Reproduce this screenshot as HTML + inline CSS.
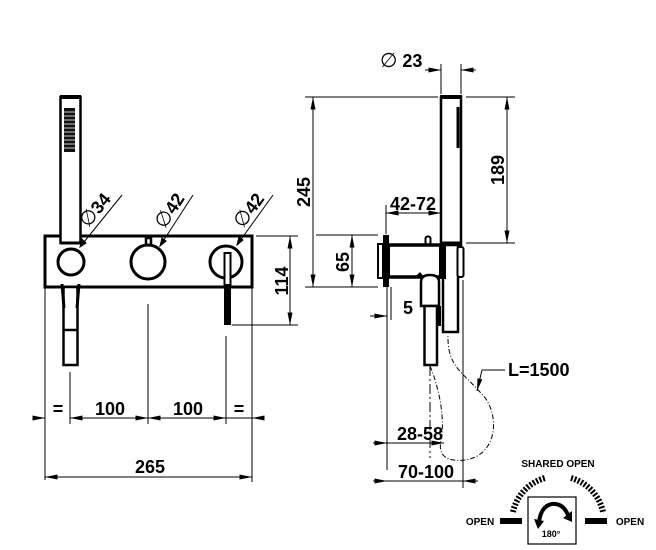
<!DOCTYPE html>
<html><head><meta charset="utf-8"><style>
html,body{margin:0;padding:0;background:#fff;}
svg{display:block;}
text{font-family:"Liberation Sans",Arial,sans-serif;font-weight:bold;fill:#000;}
.d{font-weight:normal;font-size:20px;}
</style></head><body>
<svg width="656" height="550" viewBox="0 0 656 550" xmlns="http://www.w3.org/2000/svg">
<defs>
<marker id="a" viewBox="0 0 10 4" refX="10" refY="2" markerWidth="14" markerHeight="5" markerUnits="userSpaceOnUse" orient="auto-start-reverse"><path d="M0,0 L10,2 L0,4 z" fill="#000"/></marker>
</defs>
<g stroke="#000" fill="none">
<rect x="45" y="236" width="207" height="51" stroke-width="3"/>
<rect x="60.5" y="97" width="20" height="146" stroke-width="2.5" fill="#fff"/>
<line x1="60" y1="97" x2="81" y2="97" stroke-width="4"/>
<rect x="64" y="108" width="11" height="44" fill="#111" stroke="none"/>
<g stroke="#fff" stroke-width="0.8">
<line x1="64" y1="112" x2="75" y2="112"/><line x1="64" y1="116" x2="75" y2="116"/><line x1="64" y1="120" x2="75" y2="120"/><line x1="64" y1="124" x2="75" y2="124"/><line x1="64" y1="128" x2="75" y2="128"/><line x1="64" y1="132" x2="75" y2="132"/><line x1="64" y1="136" x2="75" y2="136"/><line x1="64" y1="140" x2="75" y2="140"/><line x1="64" y1="144" x2="75" y2="144"/><line x1="64" y1="148" x2="75" y2="148"/>
</g>
<line x1="61" y1="243" x2="80" y2="243" stroke-width="3"/>
<rect x="63.5" y="287" width="14" height="78" stroke-width="2.5" fill="#fff"/>
<line x1="64" y1="330" x2="77" y2="330" stroke-width="2.5"/>
<path d="M62 284 L64 308 M79 284 L77 308" stroke-width="3"/>
<circle cx="71" cy="262" r="13" stroke-width="3" fill="#fff"/>
<rect x="146" y="238" width="5" height="8" stroke-width="2.5"/>
<circle cx="148" cy="262" r="17" stroke-width="3" fill="#fff"/>
<circle cx="226" cy="262" r="16" stroke-width="3" fill="#fff"/>
<rect x="224.5" y="253" width="6" height="32" stroke-width="2" fill="#fff"/>
<rect x="224" y="285" width="7" height="40" fill="#000" stroke="none"/>
<line x1="80" y1="247" x2="122" y2="195" stroke-width="1"/>
<line x1="160" y1="246" x2="193" y2="195" stroke-width="1"/>
<line x1="237" y1="245" x2="273" y2="195" stroke-width="1"/>
<path d="M80 247 l2 -8 l4 4 z" fill="#000" stroke-width="1"/>
<path d="M160 246 l2 -8 l4 3 z" fill="#000" stroke-width="1"/>
<path d="M237 245 l2 -8 l4 3 z" fill="#000" stroke-width="1"/>
<g stroke-width="1">
<line x1="45" y1="287" x2="45" y2="480"/>
<line x1="70" y1="372" x2="70" y2="424"/>
<line x1="148" y1="304" x2="148" y2="424"/>
<line x1="226" y1="336" x2="226" y2="424"/>
<line x1="252" y1="288" x2="252" y2="482"/>
<line x1="36" y1="418" x2="45" y2="418" marker-end="url(#a)"/>
<line x1="70" y1="418" x2="148" y2="418" marker-start="url(#a)" marker-end="url(#a)"/>
<line x1="148" y1="418" x2="226" y2="418" marker-start="url(#a)" marker-end="url(#a)"/>
<line x1="226" y1="418" x2="252" y2="418"/>
<line x1="262" y1="418" x2="252" y2="418" marker-end="url(#a)"/>
<line x1="45" y1="477" x2="252" y2="477" marker-start="url(#a)" marker-end="url(#a)"/>
<line x1="256" y1="236" x2="298" y2="236"/>
<line x1="232" y1="325" x2="298" y2="325"/>
<line x1="290" y1="236" x2="290" y2="325" marker-start="url(#a)" marker-end="url(#a)"/>
<line x1="305" y1="97" x2="438" y2="97"/>
<line x1="305" y1="287" x2="378" y2="287"/>
<line x1="313" y1="97" x2="313" y2="287" marker-start="url(#a)" marker-end="url(#a)"/>
<line x1="441" y1="64" x2="441" y2="94"/>
<line x1="461" y1="64" x2="461" y2="94"/>
<line x1="425" y1="70" x2="441" y2="70" marker-end="url(#a)"/>
<line x1="476" y1="70" x2="461" y2="70" marker-end="url(#a)"/>
<line x1="466" y1="97" x2="515" y2="97"/>
<line x1="466" y1="243" x2="515" y2="243"/>
<line x1="507" y1="97" x2="507" y2="243" marker-start="url(#a)" marker-end="url(#a)"/>
<line x1="386" y1="205" x2="386" y2="234"/>
<line x1="386" y1="213" x2="441" y2="213" marker-start="url(#a)" marker-end="url(#a)"/>
<line x1="316" y1="235" x2="378" y2="235"/>
<line x1="352" y1="235" x2="352" y2="287" marker-start="url(#a)" marker-end="url(#a)"/>
<line x1="370" y1="316" x2="387" y2="316" marker-end="url(#a)"/>
<line x1="387" y1="287" x2="387" y2="470"/>
<line x1="391" y1="287" x2="391" y2="320"/>
<line x1="430" y1="366" x2="430" y2="458" stroke-dasharray="10 3 2 3"/>
<line x1="463" y1="280" x2="463" y2="488"/>
<line x1="373" y1="443" x2="387" y2="443" marker-end="url(#a)"/>
<line x1="387" y1="443" x2="444" y2="443" marker-end="url(#a)"/>
<line x1="373" y1="481" x2="387" y2="481" marker-end="url(#a)"/>
<line x1="387" y1="481" x2="463" y2="481"/>
<line x1="478" y1="481" x2="463" y2="481" marker-end="url(#a)"/>
<line x1="505" y1="370" x2="482" y2="370"/>
<line x1="482" y1="370" x2="477" y2="391" marker-end="url(#a)"/>
</g>
<rect x="441" y="97" width="20" height="148" stroke-width="2.5" fill="#fff"/>
<line x1="440" y1="97" x2="462" y2="97" stroke-width="4"/>
<line x1="458" y1="107" x2="458" y2="148" stroke-width="3"/>
<line x1="441" y1="243" x2="461" y2="243" stroke-width="3"/>
<rect x="378" y="244" width="5" height="34" stroke-width="2" fill="#fff"/>
<rect x="383" y="235" width="6" height="52" fill="#000" stroke="none"/>
<rect x="389" y="245" width="51" height="32" stroke-width="2" fill="#fff"/>
<line x1="389" y1="245" x2="440" y2="245" stroke-width="3.5"/>
<line x1="389" y1="277" x2="440" y2="277" stroke-width="3.5"/>
<rect x="425.5" y="236.5" width="5" height="8" rx="2" stroke-width="2"/>
<rect x="443" y="245" width="15" height="87" stroke-width="2.5" fill="#fff"/>
<rect x="441" y="246" width="4" height="32" stroke-width="2"/>
<rect x="457.5" y="247" width="6" height="30" rx="2" stroke-width="2" fill="#fff"/>
<path d="M421 306 L421 282 Q421 275 430 275 Q439 275 439 282 L439 306 Z" stroke-width="2.5" fill="#fff"/>
<path d="M415 277 l5 -5 l4 5 z" fill="#000" stroke="none"/>
<rect x="424.5" y="306" width="12.5" height="59" stroke-width="2.5" fill="#fff"/>
<rect x="437" y="306" width="4" height="20" fill="#000" stroke="none"/>
<path d="M430 366 C440 390 445 420 441 440 C438 455 445 462 465 460 C500 455 500 410 480 392 C460 370 447 365 448 334" stroke-width="1" stroke-dasharray="5 2 1 2"/>
<rect x="528" y="497" width="48" height="47" stroke-width="1.2"/>
<path d="M513 512 A45 45 0 0 1 545 478" stroke-width="6" stroke-dasharray="2 1.6"/>
<path d="M571 478 A45 45 0 0 1 603 512" stroke-width="6" stroke-dasharray="2 1.6"/>
<rect x="500" y="518" width="22" height="6" fill="#000" stroke="none"/>
<rect x="585" y="518" width="22" height="6" fill="#000" stroke="none"/>
<path d="M539 522 Q541 506 552 504 Q563 503 568 515" stroke-width="4"/>
<path d="M534 519 l10 2 l-6 8 z" fill="#000" stroke="none"/>
<path d="M572 511 l0 11 l-9 -4 z" fill="#000" stroke="none"/>
</g>
<g font-size="18">
<text x="58" y="415" text-anchor="middle">=</text>
<text x="110" y="415" text-anchor="middle">100</text>
<text x="188" y="415" text-anchor="middle">100</text>
<text x="239" y="415" text-anchor="middle">=</text>
<text x="150" y="473" text-anchor="middle">265</text>
<text x="413" y="210" text-anchor="middle">42-72</text>
<text x="420" y="440" text-anchor="middle">28-58</text>
<text x="426" y="478" text-anchor="middle">70-100</text>
<text x="508" y="376">L=1500</text>
<text x="403" y="314">5</text>
<text x="380" y="67"><tspan class="d">∅</tspan> 23</text>
<text transform="translate(288 281) rotate(-90)" text-anchor="middle">114</text>
<text transform="translate(310 192) rotate(-90)" text-anchor="middle">245</text>
<text transform="translate(504 170) rotate(-90)" text-anchor="middle">189</text>
<text transform="translate(349 262) rotate(-90)" text-anchor="middle">65</text>
<text transform="translate(100 214) rotate(-51)" text-anchor="middle"><tspan class="d">∅</tspan>34</text>
<text transform="translate(175 214) rotate(-57)" text-anchor="middle"><tspan class="d">∅</tspan>42</text>
<text transform="translate(254 214) rotate(-54)" text-anchor="middle"><tspan class="d">∅</tspan>42</text>
</g>
<g font-size="10">
<text x="558" y="467" text-anchor="middle">SHARED OPEN</text>
<text x="480" y="525" text-anchor="middle">OPEN</text>
<text x="630" y="525" text-anchor="middle">OPEN</text>
<text x="551" y="537" text-anchor="middle" font-size="9">180°</text>
</g>
</svg>
</body></html>
